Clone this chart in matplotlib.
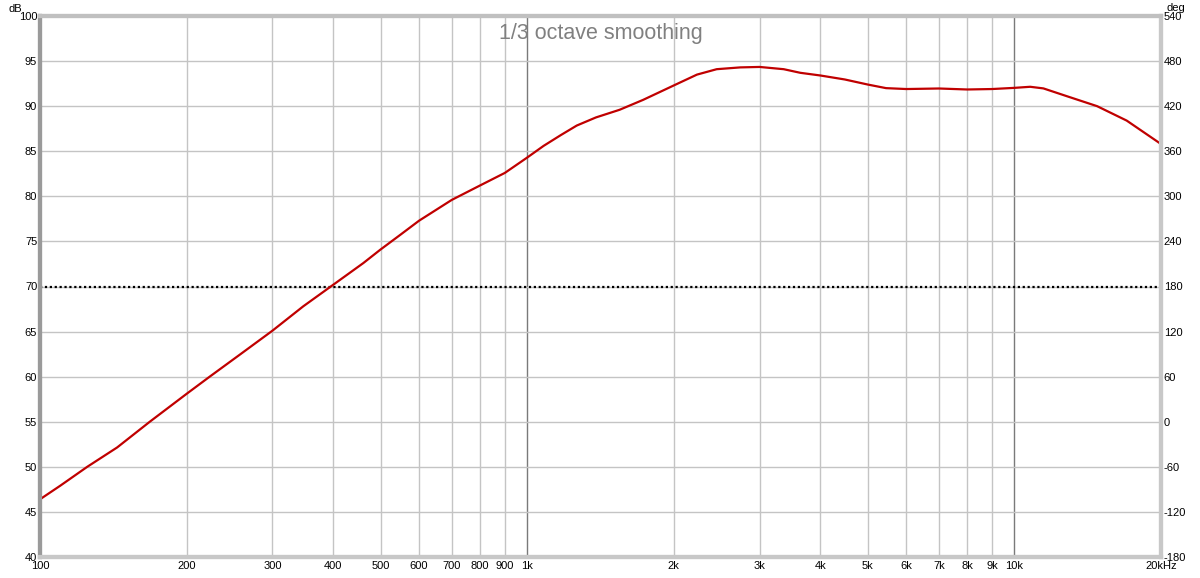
import numpy as np
import matplotlib.pyplot as plt
from matplotlib.ticker import FixedLocator, NullLocator

plt.rcParams['font.family'] = ['Liberation Sans', 'DejaVu Sans']
plt.rcParams['axes.unicode_minus'] = False

# Frequency response (Hz, dB)
freq = [100, 110, 125, 144, 168, 200, 223, 258, 300, 347, 400, 461, 500, 548,
        600, 700, 800, 900, 1000, 1081, 1173, 1264, 1384, 1548, 1730, 2000,
        2231, 2449, 2738, 3000, 3362, 3636, 4000, 4487, 5000, 5453, 6000,
        7000, 8000, 9000, 10000, 10778, 11472, 12826, 14786, 17006, 20000]
spl = [46.4, 47.9, 50.0, 52.15, 55.0, 58.1, 60.0, 62.5, 65.1, 67.8, 70.2, 72.6, 74.1, 75.7,
       77.3, 79.6, 81.2, 82.6, 84.3, 85.6, 86.8, 87.85, 88.75, 89.6, 90.7, 92.3,
       93.5, 94.1, 94.3, 94.35, 94.1, 93.7, 93.4, 92.96, 92.4, 92.0, 91.9,
       91.96, 91.85, 91.9, 92.03, 92.15, 91.97, 91.1, 90.0, 88.4, 85.8]

x_ticks = [100, 200, 300, 400, 500, 600, 700, 800, 900,
           1000, 2000, 3000, 4000, 5000, 6000, 7000, 8000, 9000, 10000, 20000]
x_labels = ['100', '200', '300', '400', '500', '600', '700', '800', '900',
            '1k', '2k', '3k', '4k', '5k', '6k', '7k', '8k', '9k', '10k', '20kHz']
db_ticks = list(range(40, 101, 5))
deg_ticks = list(range(-180, 541, 60))
ref_level = 70
title = '1/3 octave smoothing'

fig = plt.figure(figsize=(12, 5.78), dpi=100)
ax = fig.add_axes([40 / 1200, 21 / 578, 1121 / 1200, 541 / 578])

# grid
for f in x_ticks[:-1]:
    c = '#7a7a7a' if f in (1000, 10000) else '#c4c4c4'
    ax.axvline(f, color=c, lw=1, zorder=1)
for d in db_ticks:
    ax.axhline(d, color='#c4c4c4', lw=1, zorder=1)

ax.axhline(ref_level, color='black', lw=1.6, ls=(0, (1, 1.2)), zorder=2)
ax.plot(freq, spl, color='#c00000', lw=1.6, zorder=3)

ax.set_xscale('log')
ax.set_xlim(100, 20000)
ax.set_ylim(40, 100)
ax.xaxis.set_major_locator(FixedLocator(x_ticks))
ax.xaxis.set_minor_locator(NullLocator())
ax.set_xticklabels(x_labels)
ax.set_yticks(db_ticks)
ax.tick_params(length=0, labelsize=8, colors='black', pad=2)
ax.tick_params(axis='x', pad=3)

ax2 = ax.twinx()
ax2.set_ylim(-180, 540)
ax2.set_yticks(deg_ticks)
ax2.tick_params(length=0, labelsize=8, pad=2)

for a in (ax, ax2):
    a.spines['left'].set_color('#9a9a9a')
    a.spines['left'].set_linewidth(3)
    a.spines['bottom'].set_color('#c8c8c8')
    a.spines['bottom'].set_linewidth(3)
    a.spines['top'].set_color('#c0c0c0')
    a.spines['top'].set_linewidth(3)
    a.spines['right'].set_color('#c8c8c8')
    a.spines['right'].set_linewidth(3)

fig.text(15 / 1200, 1 - 9 / 578, 'dB', fontsize=8, ha='center', va='center')
fig.text(1176 / 1200, 1 - 8 / 578, 'deg', fontsize=8, ha='center', va='center')
ax.text(0.5, (557 - 34) / 541, title, transform=ax.transAxes, ha='center', va='center',
        fontsize=15.5, color='#808080', zorder=4)

fig.savefig('out.png', dpi=100, facecolor='white')
